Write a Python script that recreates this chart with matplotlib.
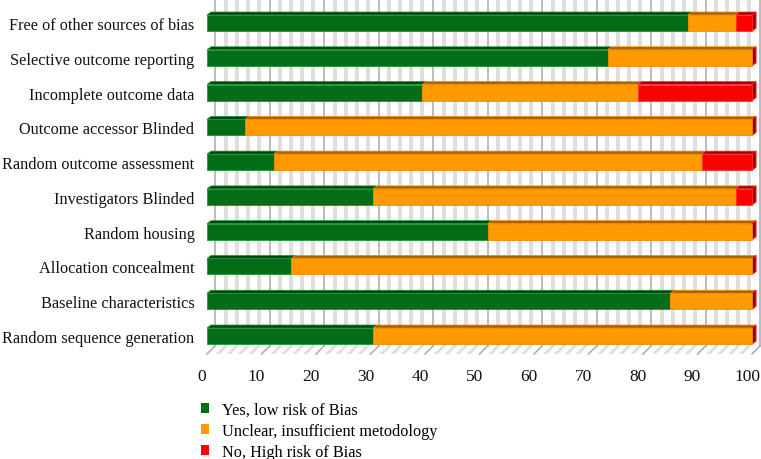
import matplotlib.pyplot as plt
import matplotlib.transforms as mtransforms
from matplotlib.patches import Rectangle, Polygon, Patch

# risk of bias domains, bottom to top
categories = ['Random sequence generation', 'Baseline characteristics',
              'Allocation concealment', 'Random housing', 'Investigators Blinded',
              'Random outcome assessment', 'Outcome accessor Blinded',
              'Incomplete outcome data', 'Selective outcome reporting',
              'Free of other sources of bias']
low = [30.5, 85.0, 15.5, 51.5, 30.5, 12.3, 7.0, 39.5, 73.5, 88.2]
unclear = [69.5, 15.0, 84.5, 48.5, 66.5, 78.5, 93.0, 39.5, 26.5, 8.8]
high = [0.0, 0.0, 0.0, 0.0, 3.0, 9.2, 0.0, 21.0, 0.0, 3.0]
legend_labels = ['Yes, low risk of Bias', 'Unclear, insufficient metodology',
                 'No, High risk of Bias']
xticks = list(range(0, 101, 10))

plt.rcParams['font.family'] = 'Liberation Serif'
plt.rcParams['font.size'] = 11.7

W, H = 761, 460
fig = plt.figure(figsize=(W / 100, H / 100), dpi=100)
ax = fig.add_axes([207 / W, (H - 355) / H, 545 / W, 355 / H])
ylo, yhi = -0.517, 9.69
ax.set_xlim(0, 100)
ax.set_ylim(ylo, yhi)

pxx = 100 / 545.0      # data units per pixel, x
pxy = (yhi - ylo) / 355.0  # data units per pixel, y

# back wall / floor offset
wdx, wdy = 8 * pxx, 8 * pxy
yback = ylo + wdy

# back wall stripes and gridlines
for g in range(0, 100, 10):
    for s in (2, 4, 6, 8):
        ax.add_patch(Rectangle((g + s + wdx - 0.37, yback), 0.74, yhi - yback,
                               fc='#dedede', ec='none', zorder=0, clip_on=False))
        # floor stripes
        x0 = g + s - 0.37
        ax.add_patch(Polygon([(x0, ylo), (x0 + 0.74, ylo), (x0 + 0.74 + wdx, yback),
                              (x0 + wdx, yback)], closed=True, fc='#dedede', ec='none',
                             zorder=0, clip_on=False))
for g in xticks:
    ax.plot([g + wdx, g + wdx], [yback, yhi], color='#b0b0b0', lw=1.2, zorder=0.5,
            clip_on=False)
    ax.plot([g, g + wdx], [ylo, yback], color='#b0b0b0', lw=1.2, zorder=0.5,
            clip_on=False)

# 3D bars
bh = 16 * pxy / 2
ddx, ddy = 4 * pxx, 3 * pxy
front = ['#046d18', '#ff9b00', '#ff0000']
topc = ['#03470d', '#a86400', '#a80000']
edge = ['#1d9630', '#f08a00', '#ff3030']

for i in range(len(categories)):
    left = 0.0
    for k, vals in enumerate((low, unclear, high)):
        v = vals[i]
        if v > 0:
            ax.add_patch(Polygon([(left, i + bh), (left + ddx, i + bh + ddy),
                                  (left + v + ddx, i + bh + ddy), (left + v, i + bh)],
                                 closed=True, fc=topc[k], ec=edge[k], lw=0.5, zorder=2,
                                 clip_on=False))
            ax.add_patch(Rectangle((left, i - bh), v, 2 * bh, fc=front[k], ec=edge[k],
                                   lw=0.6, zorder=3, clip_on=False))
        left += v
    # right side face of the stack
    ax.add_patch(Polygon([(left, i - bh), (left + ddx, i - bh + ddy),
                          (left + ddx, i + bh + ddy), (left, i + bh)],
                         closed=True, fc='#8a0000', ec='#ff1010', lw=0.8, zorder=2,
                         clip_on=False))

for sp in ax.spines.values():
    sp.set_visible(False)
ax.set_xticks(xticks)
ax.set_yticks(range(len(categories)))
ax.set_yticklabels(categories)
ax.tick_params(axis='both', length=0, colors='#111111')
ax.tick_params(axis='x', pad=10, labelsize=12.5)
ax.tick_params(axis='y', pad=9)
ax.patch.set_visible(False)
shift = mtransforms.ScaledTranslation(-5 / 100, 0, fig.dpi_scale_trans)
for lab in ax.get_xticklabels():
    lab.set_transform(lab.get_transform() + shift)

handles = [Patch(fc=c, ec='none') for c in front]
fig.legend(handles, legend_labels, loc='upper left',
           bbox_to_anchor=(194 / W, 1 - 396 / H), frameon=False,
           handlelength=0.55, handleheight=0.55, handletextpad=0.75,
           labelspacing=0.32, borderaxespad=0)

fig.savefig('out.png', dpi=100)
